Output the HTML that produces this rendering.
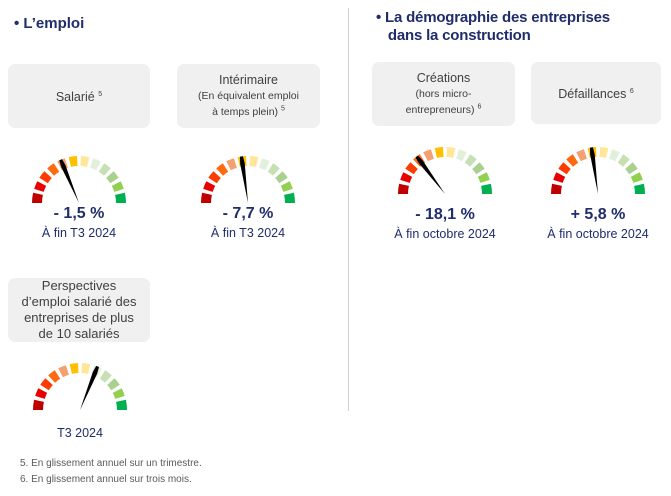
<!DOCTYPE html>
<html><head><meta charset="utf-8"><style>
body{margin:0;width:671px;height:496px;background:#fff;font-family:"Liberation Sans",sans-serif;position:relative;overflow:hidden}
.t{position:absolute;color:#1f2d6b;font-weight:bold;font-size:15px;line-height:18px}
.box{position:absolute;background:#f0f0f0;border-radius:7px;color:#404040;display:flex;align-items:center;justify-content:center;text-align:center;font-size:12.5px;line-height:15px}
.box small{font-size:10.5px;line-height:14px}
sup{font-size:7px}
.v{position:absolute;width:140px;text-align:center;color:#1f2d6b;font-weight:bold;font-size:16px}
.s{position:absolute;width:160px;text-align:center;color:#1f2d6b;font-size:12.5px}
.fn{position:absolute;left:20px;color:#595959;font-size:10px}
svg{position:absolute;left:0;top:0}
</style></head><body>
<div class="t" style="left:14px;top:15px">• L’emploi</div>
<div class="t" style="left:376px;top:9px;letter-spacing:-0.2px">• La démographie des entreprises<br>&nbsp;&nbsp;&nbsp;dans la construction</div>
<div style="position:absolute;left:348px;top:8px;width:1px;height:403px;background:#d0d0d0"></div>
<div class="box" style="left:8px;top:64px;width:142px;height:64px"><div>Salarié <sup>5</sup></div></div>
<div class="box" style="left:177px;top:64px;width:143px;height:64px"><div>Intérimaire<br><small>(En équivalent emploi<br>à temps plein) <sup>5</sup></small></div></div>
<div class="box" style="left:372px;top:62px;width:143px;height:64px"><div>Créations<br><small>(hors micro-<br>entrepreneurs) <sup>6</sup></small></div></div>
<div class="box" style="left:531px;top:62px;width:130px;height:62px"><div>Défaillances <sup>6</sup></div></div>
<div class="box" style="left:8px;top:278px;width:142px;height:64px;font-size:13px;line-height:16px"><div>Perspectives<br>d’emploi salarié des<br>entreprises de plus<br>de 10 salariés</div></div>
<svg id="g" width="671" height="496"></svg>
<div class="v" style="left:9px;top:205px">- 1,5 %</div><div class="s" style="left:-1px;top:226px">À fin T3 2024</div>
<div class="v" style="left:178px;top:205px">- 7,7 %</div><div class="s" style="left:168px;top:226px">À fin T3 2024</div>
<div class="v" style="left:375px;top:206px">- 18,1 %</div><div class="s" style="left:365px;top:227px">À fin octobre 2024</div>
<div class="v" style="left:528px;top:206px">+ 5,8 %</div><div class="s" style="left:518px;top:227px">À fin octobre 2024</div>
<div class="s" style="left:0px;top:426px">T3 2024</div>
<div class="fn" style="top:458px">5. En glissement annuel sur un trimestre.</div>
<div class="fn" style="top:474px">6. En glissement annuel sur trois mois.</div>
<script>
var cols=["#c00000","#e80000","#ff3c00","#ff6a10","#f4a070","#ffc000","#ffe699","#e2efda","#c6e0b4","#a9d08e","#92d050","#00b050"];
var gs=[[79,203,113],[248,203,98],[445,194,127],[598,194,98],[80,410,68]];
var s="",R=47,r=37,p=Math.PI/180;
gs.forEach(function(g){var cx=g[0],cy=g[1];
for(var k=0;k<12;k++){var a1=(180-15*k-(k?2.4:0))*p,a2=(180-15*(k+1)+(k<11?2.4:0))*p;
var P=function(rr,a){return (cx+rr*Math.cos(a)).toFixed(1)+","+(cy-rr*Math.sin(a)).toFixed(1)};
s+='<path fill="'+cols[k]+'" d="M'+P(R,a1)+' A'+R+','+R+' 0 0 1 '+P(R,a2)+' L'+P(r,a2)+' A'+r+','+r+' 0 0 0 '+P(r,a1)+'Z"/>';}
s+='<g transform="translate('+cx+','+cy+') rotate('+(-g[2])+')"><polygon points="0,0 40,-2.3 47,-1.5 47,1.5 40,2.3" fill="#000"/></g>';});
document.getElementById("g").innerHTML=s;
</script>
</body></html>
